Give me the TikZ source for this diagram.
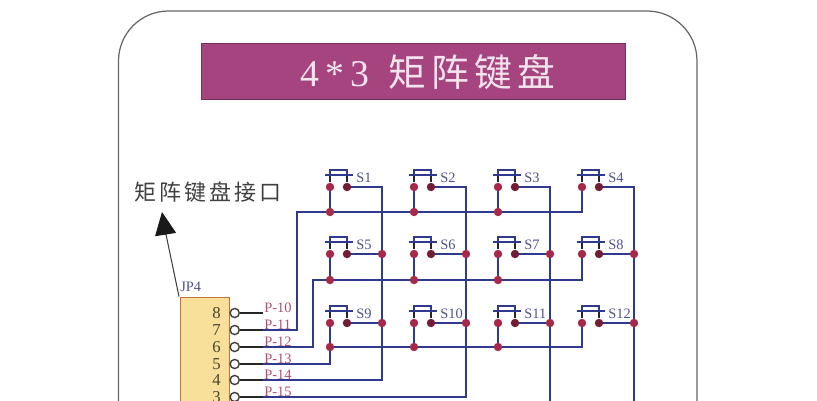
\documentclass[tikz,border=0pt]{standalone}
\usepackage{fontspec}
\setmainfont{Liberation Serif}
\newfontfamily\cjk{Noto Sans CJK SC}
\newfontfamily\cjkwide[LetterSpace=14]{Noto Sans CJK SC}
\usetikzlibrary{arrows.meta,backgrounds}
\definecolor{wireblue}{HTML}{2F3A8F}
\definecolor{dotred}{HTML}{A52A4A}
\definecolor{titlebg}{HTML}{A6447F}
\definecolor{boxfill}{HTML}{F8E09A}
\definecolor{boxline}{HTML}{C8703C}
\definecolor{pinred}{HTML}{B0506E}
\definecolor{swgrey}{HTML}{50508C}
\tikzstyle{wire} = [draw=wireblue,line width=1.25pt]
\tikzstyle{stub} = [draw=black!85,line width=1pt]
\tikzstyle{dot} = [circle,fill=dotred,minimum size=4.8pt,inner sep=0pt]
\tikzstyle{darkdot} = [circle,fill=dotred!70!black,minimum size=4.8pt,inner sep=0pt]
\tikzstyle{pincircle} = [circle,draw=black!75,fill=white,line width=0.8pt,minimum size=5.2pt,inner sep=0pt]
\tikzstyle{pinlabel} = [font=\fontsize{8.2}{9}\selectfont,text=pinred,inner sep=0pt,anchor=west]
\tikzstyle{pinnum} = [font=\fontsize{9.5}{10}\selectfont,text=black!65!olive,inner sep=0pt,anchor=east]
\tikzstyle{swlabel} = [font=\fontsize{8.2}{9}\selectfont,text=swgrey,inner sep=0pt,anchor=west]

\begin{document}
\begin{tikzpicture}[x=0.02cm,y=-0.02cm]
    \useasboundingbox (0,0) rectangle (817,400);
    \clip (0,0) rectangle (817,400);

    \draw[black!60,line width=0.7pt,rounded corners=1cm] (118.5,11) rectangle (697,470);
    \node[draw=titlebg!70!black,fill=titlebg,minimum width=241.5pt,minimum height=31.7pt,inner sep=0pt] (titlebar) at (413,71) {};
    \node[text=white!85!titlebg,font=\fontsize{21.5}{22}\selectfont] (title) at (428,72) {4\,*\,3\hspace{11pt}{\cjkwide 矩阵键盘}};
    \node[text=black!75,font=\fontsize{12.5}{14}\selectfont] (portlabel) at (208,192) {\cjkwide 矩阵键盘接口};

    % header
    \node[draw=boxline,fill=boxfill,minimum width=28.3pt,minimum height=85pt,inner sep=0pt,anchor=north west,line width=0.6pt] (header) at (179.5,297) {};
    \node[swlabel] (jp) at (180,287) {JP4};
    \coordinate (arrowtip) at (162,212);
    \coordinate (arrowtail) at (179,296.5);
    \draw[black!75,line width=0.6pt] (arrowtail) -- (165.5,232);
    \draw[-{Triangle[length=13pt,width=12pt]},black!90,line width=0.6pt] (165.5,234) -- (arrowtip);

    % pins
    \foreach \pos/ \name/ \label in {313/8/10, 330/7/11, 347/6/12, 364/5/13, 380/4/14, 397/3/15} {
        \coordinate (t\name) at (263,\pos);
        \node[pinnum] (n\name) at (221,\pos) {\name};
        \node[pinlabel] (l\name) at (264,\pos-5) {P-\label};
    }

    % switches
    \foreach \x/ \y/ \name in {330/187/1, 414/187/2, 498/187/3, 582/187/4,
                               330/254/5, 414/254/6, 498/254/7, 582/254/8,
                               330/323/9, 414/323/10, 498/323/11, 582/323/12} {
        \coordinate (bl\name) at (\x,\y-12);
        \coordinate (br\name) at (\x+17,\y-12);
        \node[dot] (pl\name) at (\x,\y) {};
        \node[darkdot] (pr\name) at (\x+17,\y) {};
        \begin{pgfonlayer}{background}
            \draw[stub] (bl\name) -- (pl\name);
            \draw[stub] (br\name) -- (pr\name);
        \end{pgfonlayer}
        \draw[wireblue,line width=1.2pt] (\x-5.5,\y-12) -- (\x+22.5,\y-12);
        \draw[wireblue,line width=0.9pt] (\x,\y-12) -- (\x,\y-17) -- (\x+17,\y-17) -- (\x+17,\y-12);
        \node[swlabel] (s\name) at (\x+26,\y-9) {S\name};
    }

    % wire ends
    \coordinate (r1) at (297,212);
    \coordinate (r2) at (313,280);
    \coordinate (e3) at (550,410);
    \coordinate (e4) at (634,410);
    \foreach \x/ \y/ \name in {330/212/1, 414/212/2, 498/212/3,
                               330/280/5, 414/280/6, 498/280/7,
                               330/347/9, 414/347/10, 498/347/11}
        \node[dot] (j\name) at (\x,\y) {};
    \foreach \x/ \y/ \name in {382/254/5, 466/254/6, 550/254/7, 634/254/8,
                               382/323/9, 466/323/10, 550/323/11, 634/323/12}
        \node[dot] (k\name) at (\x,\y) {};

    \begin{pgfonlayer}{background}
    % rows
    \draw[wire] (t7) -| (r1) -- (j1.center) -- (j2.center) -- (j3.center) -| (pl4.center);
    \draw[wire] (t6) -| (r2) -- (j5.center) -- (j6.center) -- (j7.center) -| (pl8.center);
    \draw[wire] (t5) -| (j9.center) -- (j10.center) -- (j11.center) -| (pl12.center);
    % columns
    \draw[wire] (t4) -| (k9.center) -- (k5.center) |- (pr1.center);
    \draw[wire] (t3) -| (k10.center) -- (k6.center) |- (pr2.center);
    \draw[wire] (e3) -- (k11.center) -- (k7.center) |- (pr3.center);
    \draw[wire] (e4) -- (k12.center) -- (k8.center) |- (pr4.center);
    \foreach \source/ \dest in {1/1, 2/2, 3/3, 5/5, 6/6, 7/7, 9/9, 10/10, 11/11}
        \path[wire] (pl\source.center) -- (j\dest.center);
    \foreach \source in {5,6,7,8,9,10,11,12}
        \path[wire] (pr\source.center) -- (k\source.center);
    \end{pgfonlayer}

    % header circles
    \foreach \name in {8,7,6,5,4,3} {
        \node[pincircle] (c\name) at (234.7,0 |- t\name) {};
        \draw[stub] (c\name) -- (t\name);
    }
\end{tikzpicture}
\end{document}
